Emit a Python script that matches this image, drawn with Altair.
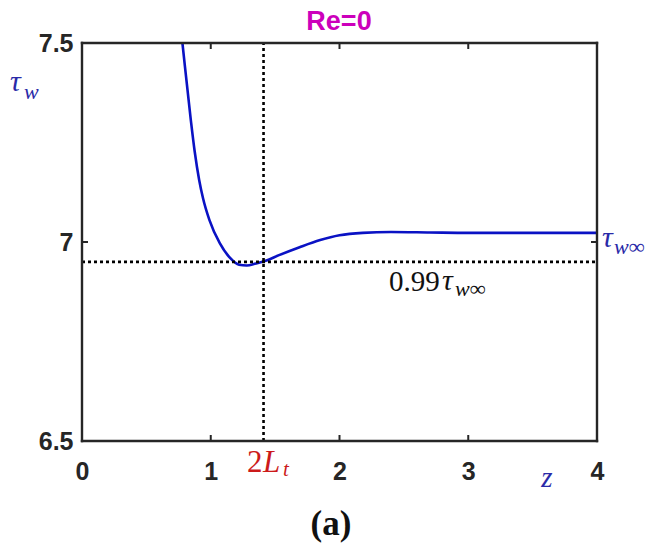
import altair as alt
import pandas as pd

# curve data
z_vals = [0.76, 0.78, 0.845, 0.875, 0.91, 0.94, 0.99, 1.07, 1.15, 1.22, 1.28, 1.35, 1.42,
          1.53, 1.69, 1.85, 2.00, 2.18, 2.40, 2.70, 3.00, 3.50, 4.00]
tau_vals = [7.56, 7.50, 7.307, 7.228, 7.156, 7.11, 7.055, 6.997, 6.960, 6.943, 6.941, 6.946, 6.952,
            6.967, 6.987, 7.005, 7.017, 7.023, 7.025, 7.024, 7.023, 7.023, 7.023]

x_ticks = [0, 1, 2, 3, 4]
y_ticks = [6.5, 7, 7.5]
two_lt = 1.41
tau_99 = 6.95

W, H = 515, 398
PX = 4 / W      # data units per pixel (x)
PY = 1.0 / H    # data units per pixel (y)

def dx(px):
    return (px - 82) * PX

def dy(py):
    return 7.5 - (py - 43) * PY

curve = pd.DataFrame({"z": z_vals, "tau": tau_vals})

xs = alt.Scale(domain=[0, 4], nice=False, zero=False)
ys = alt.Scale(domain=[6.5, 7.5], nice=False, zero=False)

xaxis = alt.Axis(values=x_ticks, labelFont="Liberation Sans", labelFontWeight="bold",
                 labelFontSize=25, labelColor="#262626", tickSize=0, domain=False,
                 grid=False, labelPadding=18, title=None, format="d", labelFlush=False)
yaxis = alt.Axis(values=y_ticks, labelFont="Liberation Sans", labelFontWeight="bold",
                 labelFontSize=25, labelColor="#262626", tickSize=0, domain=False,
                 grid=False, labelPadding=9, title=None, labelFlush=False,
                 labelExpr="datum.value == 7 ? '7' : format(datum.value, '.1f')")

line = alt.Chart(curve).mark_line(color="#0a12c4", strokeWidth=2.6, clip=True,
                                  interpolate="monotone").encode(
    x=alt.X("z:Q", scale=xs, axis=xaxis),
    y=alt.Y("tau:Q", scale=ys, axis=yaxis),
)

vline = alt.Chart(pd.DataFrame({"x": [two_lt], "y": [6.5], "y2": [7.5]})).mark_rule(
    color="black", strokeWidth=2.6, strokeDash=[3, 3]).encode(
    x=alt.X("x:Q", scale=xs), y=alt.Y("y:Q", scale=ys), y2="y2:Q")

hline = alt.Chart(pd.DataFrame({"y": [tau_99], "x": [0], "x2": [4]})).mark_rule(
    color="black", strokeWidth=2.6, strokeDash=[3, 3]).encode(
    y=alt.Y("y:Q", scale=ys), x=alt.X("x:Q", scale=xs), x2="x2:Q")

# box frame
frame_rows = [
    {"x": 0, "x2": 4, "y": 6.5, "y2": 6.5},
    {"x": 0, "x2": 4, "y": 7.5, "y2": 7.5},
    {"x": 0, "x2": 0, "y": 6.5, "y2": 7.5},
    {"x": 4, "x2": 4, "y": 6.5, "y2": 7.5},
]
frame = alt.Chart(pd.DataFrame(frame_rows)).mark_rule(
    color="#262626", strokeWidth=2.4, strokeCap="square").encode(
    x=alt.X("x:Q", scale=xs), x2="x2:Q", y=alt.Y("y:Q", scale=ys), y2="y2:Q")

# inward ticks (MATLAB style, box on)
tl = 6
xt_rows = []
for t in x_ticks[1:-1]:
    xt_rows.append({"x": t, "x2": t, "y": 6.5, "y2": 6.5 + tl * PY})
    xt_rows.append({"x": t, "x2": t, "y": 7.5, "y2": 7.5 - tl * PY})
for t in y_ticks[1:-1]:
    xt_rows.append({"x": 0, "x2": tl * PX, "y": t, "y2": t})
    xt_rows.append({"x": 4, "x2": 4 - tl * PX, "y": t, "y2": t})
ticks = alt.Chart(pd.DataFrame(xt_rows)).mark_rule(color="#262626", strokeWidth=2).encode(
    x=alt.X("x:Q", scale=xs), x2="x2:Q", y=alt.Y("y:Q", scale=ys), y2="y2:Q")

def label(text, px, py, size, color, font="Liberation Serif", style="normal",
          weight="normal", align="center", baseline="middle"):
    df = pd.DataFrame({"x": [dx(px)], "y": [dy(py)], "t": [text]})
    return alt.Chart(df).mark_text(
        font=font, fontSize=size, color=color, fontStyle=style, fontWeight=weight,
        align=align, baseline=baseline, clip=False).encode(
        x=alt.X("x:Q", scale=xs), y=alt.Y("y:Q", scale=ys), text="t:N")

blue = "#2a2aa8"
texts = [
    label("τ", 10, 82, 30, blue, style="italic", align="left"),
    label("w", 24, 92, 22, blue, style="italic", align="left"),
    label("τ", 602, 238, 30, blue, style="italic", align="left"),
    label("w∞", 614, 247, 22, blue, style="italic", align="left"),
    label("0.99", 389, 282, 29, "#111111", align="left"),
    label("τ", 442, 281, 30, "#111111", style="italic", align="left"),
    label("w∞", 455, 289, 22, "#111111", style="italic", align="left"),
    label("2", 247, 463, 31, "#cc1a1a", align="left"),
    label("L", 263, 463, 31, "#cc1a1a", style="italic", align="left"),
    label("t", 283, 470, 21, "#cc1a1a", style="italic", align="left"),
    label("z", 547, 478, 29, blue, style="italic"),
    label("(a)", 331, 524, 35, "#111111", weight="bold"),
    label("Re=0", 339, 22, 27, "#cc00bb", font="Liberation Sans", weight="bold"),
]

chart = alt.layer(line, vline, hline, frame, ticks, *texts).properties(
    width=W, height=H,
    autosize=alt.AutoSizeParams(type="none"),
    padding={"left": 82, "top": 43, "right": 58, "bottom": 103},
).configure_view(stroke=None).configure(background="white")

chart.save("out.html", embed_options={"renderer": "svg", "actions": False})
